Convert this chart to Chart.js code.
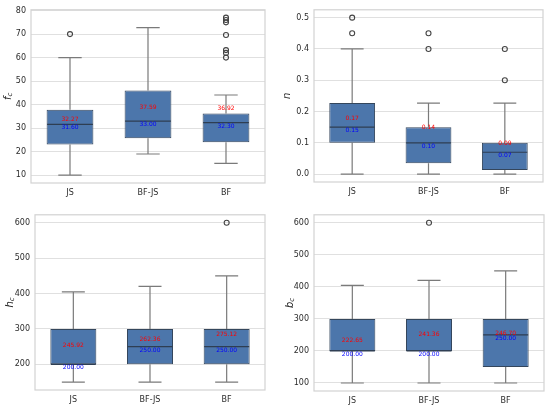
<!DOCTYPE html>
<html><head><meta charset="utf-8">
<script src="https://cdn.jsdelivr.net/npm/chart.js@4.4.0/dist/chart.umd.min.js"></script>
<style>
html,body{margin:0;padding:0;background:#fff;width:550px;height:409px;overflow:hidden}
canvas{position:absolute}
</style></head><body>
<canvas id="c1" style="left:0;top:0" width="275" height="205"></canvas>
<canvas id="c2" style="left:275px;top:0" width="275" height="205"></canvas>
<canvas id="c3" style="left:0;top:205px" width="275" height="204"></canvas>
<canvas id="c4" style="left:275px;top:205px" width="275" height="204"></canvas>
<script>
const categories = ['JS', 'BF-JS', 'BF'];

// f_c
const fcLow = [10, 19, 15];
const fcQ1 = [23, 25.7, 24];
const fcMedian = [31.6, 33.0, 32.3];
const fcQ3 = [37.8, 46, 36.2];
const fcHigh = [60, 72.8, 44.1];
const fcMean = [32.27, 37.59, 36.92];
const fcOutliers = [[70], [], [60, 62, 63.2, 69.6, 75, 76, 77]];
const fcTicks = [10, 20, 30, 40, 50, 60, 70, 80];

// n
const nLow = [0, 0, 0];
const nQ1 = [0.1, 0.035, 0.013];
const nMedian = [0.15, 0.10, 0.07];
const nQ3 = [0.227, 0.15, 0.1];
const nHigh = [0.4, 0.227, 0.227];
const nMean = [0.17, 0.14, 0.09];
const nOutliers = [[0.45, 0.5], [0.4, 0.45], [0.3, 0.4]];
const nTicks = [0.0, 0.1, 0.2, 0.3, 0.4, 0.5];

// h_c
const hcLow = [150, 150, 150];
const hcQ1 = [200, 200, 200];
const hcMedian = [200, 250, 250];
const hcQ3 = [300, 300, 300];
const hcHigh = [405, 420, 450];
const hcMean = [245.92, 262.36, 275.12];
const hcOutliers = [[], [], [600]];
const hcTicks = [200, 300, 400, 500, 600];

// b_c
const bcLow = [100, 100, 100];
const bcQ1 = [200, 200, 150];
const bcMedian = [200, 200, 250];
const bcQ3 = [300, 300, 300];
const bcHigh = [405, 420, 450];
const bcMean = [222.65, 241.36, 246.70];
const bcOutliers = [[], [600], []];
const bcTicks = [100, 200, 300, 400, 500, 600];

const boxFill = '#4c76ab';
const boxEdge = '#34465c';
const whiskerColor = '#7a7a7a';
const medianColor = '#2e3e52';
const gridColor = '#e0e0e0';
const frameColor = '#d2d2d2';
const tickColor = '#2b2b2b';

const boxPlugin = {
  id: 'boxExtras',
  beforeDatasetsDraw(chart) {
    const o = chart.options.plugins.boxExtras;
    const {ctx, scales: {x, y}} = chart;
    const meta = chart.getDatasetMeta(0);
    ctx.save();
    ctx.strokeStyle = whiskerColor;
    ctx.lineWidth = 1.2;
    meta.data.forEach((bar, i) => {
      const cx = x.getPixelForValue(i);
      const half = bar.width / 4;
      const yl = y.getPixelForValue(o.low[i]);
      const y1 = y.getPixelForValue(o.q1[i]);
      const y3 = y.getPixelForValue(o.q3[i]);
      const yh = y.getPixelForValue(o.high[i]);
      ctx.beginPath();
      ctx.moveTo(cx, yl); ctx.lineTo(cx, y1);
      ctx.moveTo(cx, y3); ctx.lineTo(cx, yh);
      ctx.moveTo(cx - half, yl); ctx.lineTo(cx + half, yl);
      ctx.moveTo(cx - half, yh); ctx.lineTo(cx + half, yh);
      ctx.stroke();
    });
    ctx.restore();
  },
  afterDatasetsDraw(chart) {
    const o = chart.options.plugins.boxExtras;
    const {ctx, scales: {x, y}} = chart;
    const meta = chart.getDatasetMeta(0);
    ctx.save();
    meta.data.forEach((bar, i) => {
      const cx = x.getPixelForValue(i);
      const hw = bar.width / 2;
      const ym = y.getPixelForValue(o.median[i]);
      ctx.strokeStyle = medianColor;
      ctx.lineWidth = 1.2;
      ctx.beginPath();
      ctx.moveTo(cx - hw + 0.5, ym); ctx.lineTo(cx + hw - 0.5, ym);
      ctx.stroke();
      ctx.font = '6px "DejaVu Sans"';
      ctx.textAlign = 'center';
      ctx.fillStyle = 'red';
      ctx.textBaseline = 'bottom';
      ctx.fillText(o.mean[i].toFixed(2), cx, y.getPixelForValue(o.mean[i]));
      ctx.fillStyle = 'blue';
      ctx.textBaseline = 'top';
      ctx.fillText(o.median[i].toFixed(2), cx, ym + 0.5);
    });
    ctx.restore();
  },
  afterDraw(chart) {
    const o = chart.options.plugins.boxExtras;
    const {ctx, chartArea: a} = chart;
    ctx.save();
    ctx.strokeStyle = frameColor;
    ctx.lineWidth = 1.2;
    ctx.strokeRect(a.left, a.top, a.right - a.left, a.bottom - a.top);
    // y-axis label with subscript
    ctx.translate(o.labelX, (a.top + a.bottom) / 2);
    ctx.rotate(-Math.PI / 2);
    ctx.fillStyle = '#262626';
    ctx.textBaseline = 'middle';
    ctx.textAlign = 'left';
    ctx.font = 'italic 10px "DejaVu Sans"';
    const w1 = ctx.measureText(o.label).width;
    let w2 = 0;
    if (o.sub) { ctx.font = 'italic 7px "DejaVu Sans"'; w2 = ctx.measureText(o.sub).width; }
    const start = -(w1 + w2) / 2;
    ctx.font = 'italic 10px "DejaVu Sans"';
    ctx.fillText(o.label, start, 0);
    if (o.sub) {
      ctx.font = 'italic 7px "DejaVu Sans"';
      ctx.fillText(o.sub, start + w1, 2.5);
    }
    ctx.restore();
  }
};

function makeChart(id, s) {
  const pts = [];
  categories.forEach((c, i) => s.out[i].forEach(v => pts.push({x: c, y: v})));
  return new Chart(document.getElementById(id), {
    type: 'bar',
    data: {
      labels: categories,
      datasets: [
        {
          type: 'bar',
          data: s.q1.map((v, i) => [v, s.q3[i]]),
          backgroundColor: boxFill,
          borderColor: boxEdge,
          borderWidth: 1,
          borderSkipped: false,
          barPercentage: 0.6,
          categoryPercentage: 1
        },
        {
          type: 'line',
          data: pts,
          showLine: false,
          pointStyle: 'circle',
          pointRadius: 2.5,
          pointBorderWidth: 1.1,
          pointBorderColor: '#444444',
          pointBackgroundColor: 'rgba(255,255,255,0)'
        }
      ]
    },
    options: {
      responsive: false,
      animation: false,
      layout: {padding: {left: 0, right: s.padR, top: s.padT, bottom: 0}},
      plugins: {
        legend: {display: false},
        tooltip: {enabled: false},
        boxExtras: {
          low: s.low, q1: s.q1, median: s.median, q3: s.q3, high: s.high, mean: s.mean,
          label: s.label, sub: s.sub, labelX: s.labelX
        }
      },
      scales: {
        x: {
          grid: {display: false, drawTicks: false},
          border: {display: false},
          ticks: {color: tickColor, font: {family: 'DejaVu Sans', size: 8}, padding: 5},
          afterFit(sc) { sc.height = s.xh; }
        },
        y: {
          min: s.min, max: s.max,
          grid: {color: gridColor, lineWidth: 1, drawTicks: false},
          border: {display: false},
          ticks: {
            color: tickColor, font: {family: 'DejaVu Sans', size: 8}, padding: 5,
            callback: v => v.toFixed(s.dec)
          },
          afterBuildTicks(sc) { sc.ticks = s.ticks.map(v => ({value: v})); },
          afterFit(sc) { sc.width = s.yw; }
        }
      }
    },
    plugins: [boxPlugin]
  });
}

makeChart('c1', {low: fcLow, q1: fcQ1, median: fcMedian, q3: fcQ3, high: fcHigh, mean: fcMean, out: fcOutliers,
  ticks: fcTicks, min: 6.65, max: 80.35, dec: 0, label: 'f', sub: 'c', labelX: 8,
  yw: 31, xh: 22, padR: 10, padT: 6});
makeChart('c2', {low: nLow, q1: nQ1, median: nMedian, q3: nQ3, high: nHigh, mean: nMean, out: nOutliers,
  ticks: nTicks, min: -0.025, max: 0.525, dec: 1, label: 'n', sub: '', labelX: 12,
  yw: 39, xh: 23, padR: 7, padT: 6});
makeChart('c3', {low: hcLow, q1: hcQ1, median: hcMedian, q3: hcQ3, high: hcHigh, mean: hcMean, out: hcOutliers,
  ticks: hcTicks, min: 127.5, max: 622.5, dec: 0, label: 'h', sub: 'c', labelX: 10,
  yw: 35, xh: 19, padR: 10, padT: 7});
makeChart('c4', {low: bcLow, q1: bcQ1, median: bcMedian, q3: bcQ3, high: bcHigh, mean: bcMean, out: bcOutliers,
  ticks: bcTicks, min: 75, max: 625, dec: 0, label: 'b', sub: 'c', labelX: 15,
  yw: 39, xh: 18, padR: 6, padT: 7});
</script>
</body></html>
